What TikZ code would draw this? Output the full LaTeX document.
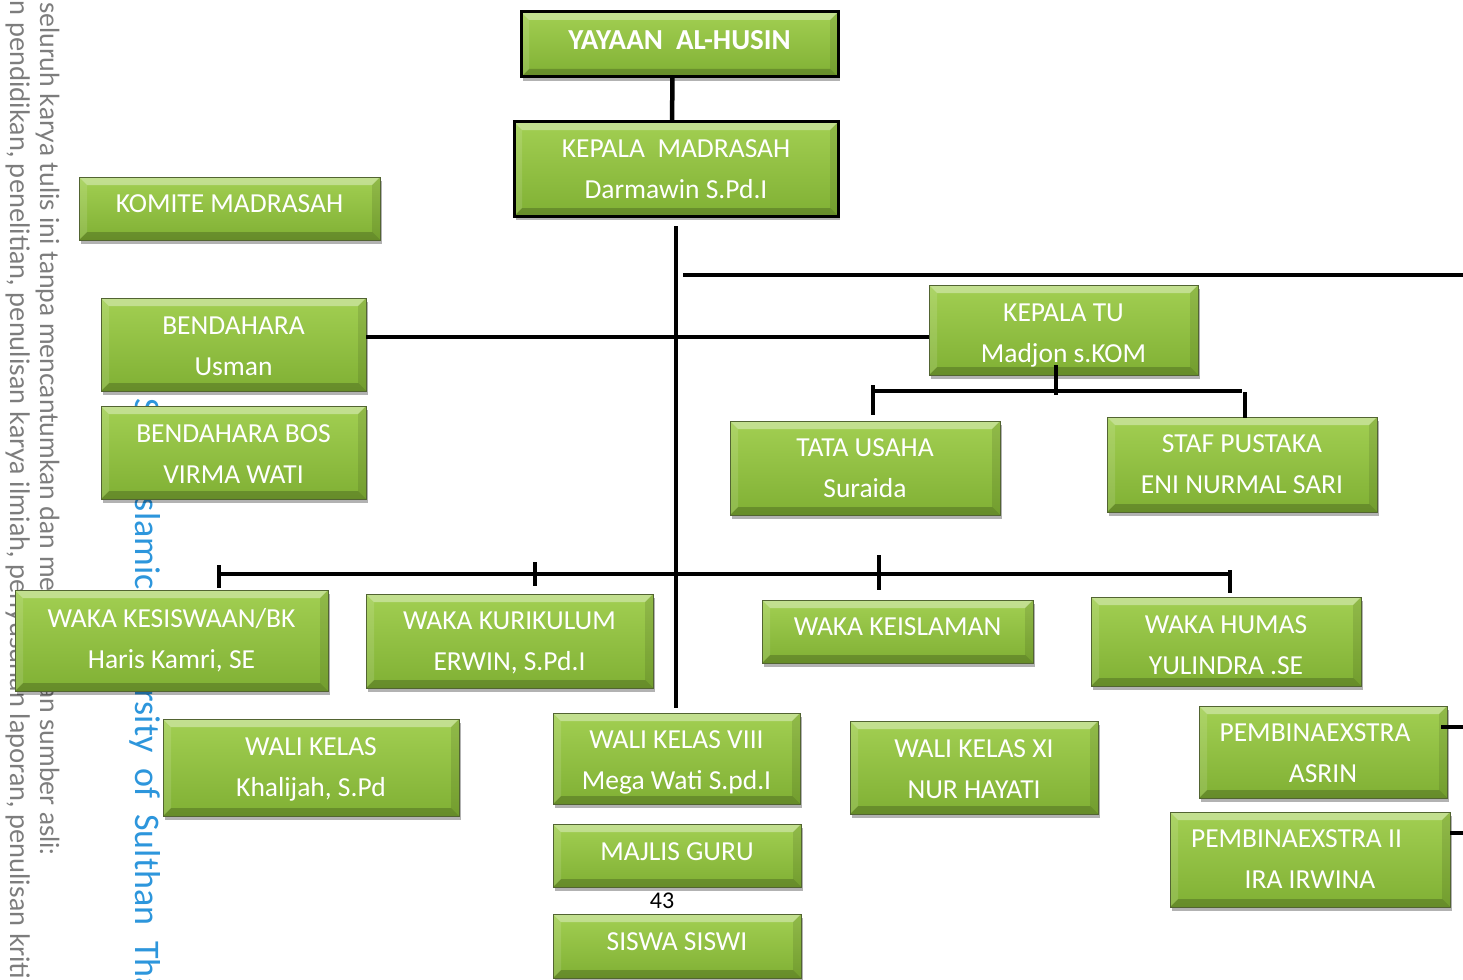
\documentclass[tikz,border=0pt]{standalone}
\usepackage{fontspec}
\setmainfont{Carlito}
\newfontfamily\wmfont{Lato}
\usetikzlibrary{shadows,calc}
\definecolor{gtop}{RGB}{162,207,82}
\definecolor{gbot}{RGB}{128,176,52}
\definecolor{gedge}{RGB}{82,100,50}
\definecolor{wmgrey}{RGB}{125,125,125}
\definecolor{wmblue}{RGB}{45,150,220}
\tikzset{
  orgbox/.style={rectangle, anchor=north west, inner sep=0pt, outer sep=0pt,
    top color=gtop, bottom color=gbot, draw=gedge, line width=1pt,
    drop shadow={shadow xshift=2pt, shadow yshift=-4pt, opacity=0.3, fill=black},
    path picture={
      \path (path picture bounding box.north west) coordinate (bNW)
            (path picture bounding box.south east) coordinate (bSE);
      \fill[white, opacity=0.36] (bNW) -- (bNW -| bSE) -- ($(bNW -| bSE)+(-8,-8)$) -- ($(bNW)+(8,-8)$) -- cycle;
      \fill[black, opacity=0.20] (bSE) -- (bSE -| bNW) -- ($(bSE -| bNW)+(8,8)$) -- ($(bSE)+(-8,8)$) -- cycle;
      \fill[white, opacity=0.12] (bNW) -- ($(bNW)+(8,-8)$) -- ($(bSE -| bNW)+(8,8)$) -- (bSE -| bNW) -- cycle;
      \fill[black, opacity=0.10] (bNW -| bSE) -- ($(bNW -| bSE)+(-8,-8)$) -- ($(bSE)+(-8,8)$) -- (bSE) -- cycle;
    }},
  headbox/.style={orgbox, draw=black, line width=3pt},
  boxtext/.style={text=white, align=center, inner sep=0pt, font=\fontsize{27.5}{41}\selectfont},
  conn/.style={line width=4.5pt, black},
  wmtext/.style={rotate=-90, anchor=base west, inner sep=0pt},
}
\begin{document}
\begin{tikzpicture}[x=1pt,y=1pt]
\useasboundingbox (0,0) rectangle (1463,-979);
\clip (0,0) rectangle (1463,-979);
\fill[white] (0,0) rectangle (1463,-979);

% watermark texts
\node[wmtext, text=wmgrey] (wm1) at (11,0) {\resizebox{979pt}{!}{\wmfont n pendidikan, penelitian, penulisan karya ilmiah, penyusunan laporan, penulisan kriti}};
\node[wmtext, text=wmgrey] (wm2) at (40,-2) {\resizebox{853pt}{!}{\wmfont seluruh karya tulis ini tanpa mencantumkan dan menyebutkan sumber asli:}};
\node[wmtext, text=wmblue, font=\fontsize{36}{40}\selectfont] (wm3) at (135,-398) {\spaceskip=16pt State Islamic University of Sulthan Thaha};

% boxes
\node[headbox, minimum width=317, minimum height=65] (yay) at (521,-12) {};
\node[headbox, minimum width=324, minimum height=94] (kep) at (514,-122) {};
\node[orgbox, minimum width=301, minimum height=63] (kom) at (79,-177) {};
\node[orgbox, minimum width=265, minimum height=93] (ben) at (101,-298) {};
\node[orgbox, minimum width=265, minimum height=93] (bos) at (101,-406) {};
\node[orgbox, minimum width=269, minimum height=90] (ktu) at (929,-285) {};
\node[orgbox, minimum width=270, minimum height=94] (tu) at (730,-421) {};
\node[orgbox, minimum width=270, minimum height=95] (staf) at (1107,-417) {};
\node[orgbox, minimum width=313, minimum height=101] (wks) at (15,-590) {};
\node[orgbox, minimum width=287, minimum height=94] (wkk) at (366,-594) {};
\node[orgbox, minimum width=271, minimum height=63] (wki) at (762,-600) {};
\node[orgbox, minimum width=270, minimum height=89] (wkh) at (1091,-597) {};
\node[orgbox, minimum width=296, minimum height=97] (wl) at (163,-719) {};
\node[orgbox, minimum width=247, minimum height=91] (wl8) at (553,-713) {};
\node[orgbox, minimum width=248, minimum height=93] (wl11) at (850,-721) {};
\node[orgbox, minimum width=248, minimum height=92] (pe1) at (1199,-706) {};
\node[orgbox, minimum width=280, minimum height=95] (pe2) at (1170,-812) {};
\node[orgbox, minimum width=248, minimum height=63] (mg) at (553,-824) {};
\node[orgbox, minimum width=248, minimum height=64] (ss) at (553,-914) {};

% box texts
\node[boxtext, font=\fontsize{29}{41}\selectfont\bfseries] (yay-t) at ([yshift=4]yay.center) {YAYAAN\ \ AL-HUSIN};
\node[boxtext] (kep-t) at (kep.center) {KEPALA\ \ MADRASAH\\Darmawin S.Pd.I};
\node[boxtext] (kom-t) at ([yshift=5]kom.center) {KOMITE MADRASAH};
\node[boxtext] (ben-t) at ([yshift=-2]ben.center) {BENDAHARA\\Usman};
\node[boxtext] (bos-t) at ([yshift=-2]bos.center) {BENDAHARA BOS\\VIRMA WATI};
\node[boxtext] (ktu-t) at ([yshift=-6]ktu.center) {KEPALA TU\\Madjon s.KOM};
\node[boxtext] (tu-t) at (tu.center) {TATA USAHA\\Suraida};
\node[boxtext] (staf-t) at (staf.center) {STAF PUSTAKA\\ENI NURMAL SARI};
\node[boxtext] (wks-t) at (wks.center) {WAKA KESISWAAN/BK\\Haris Kamri, SE};
\node[boxtext] (wkk-t) at ([yshift=-2]wkk.center) {WAKA KURIKULUM\\ERWIN, S.Pd.I};
\node[boxtext] (wki-t) at ([yshift=5]wki.center) {WAKA KEISLAMAN};
\node[boxtext] (wkh-t) at ([yshift=-4]wkh.center) {WAKA HUMAS\\YULINDRA .SE};
\node[boxtext] (wl-t) at ([yshift=-2]wl.center) {WALI KELAS\\Khalijah, S.Pd};
\node[boxtext] (wl8-t) at ([yshift=-4]wl8.center) {WALI KELAS VIII\\Mega Wati S.pd.I};
\node[boxtext] (wl11-t) at ([yshift=-2]wl11.center) {WALI KELAS XI\\NUR HAYATI};
\node[boxtext] (pe1-t) at ([yshift=-1]pe1.center) {PEMBINAEXSTRA\hspace*{16pt}\\ASRIN};
\node[boxtext] (pe2-t) at (pe2.center) {PEMBINAEXSTRA II\hspace*{27pt}\\IRA IRWINA};
\node[boxtext] (mg-t) at ([yshift=4]mg.center) {MAJLIS GURU};
\node[boxtext] (ss-t) at ([yshift=4]ss.center) {SISWA SISWI};
\node[font=\fontsize{24}{28}\selectfont, text=black] (pg) at (662,-901) {43};

% connectors
\draw[conn] ([xshift=-7]yay.south) -- ([xshift=-4]kep.north);
\coordinate (spineBot) at ([yshift=5]wl8.north -| kep.south);
\draw[conn] ([yshift=-10]kep.south) -- (spineBot);
\coordinate (topL) at (683,-275);
\coordinate (topR) at (1463,-275);
\draw[conn] (topL) -- (topR);
\draw[conn] ([yshift=-7]ktu.west) -- ([yshift=-7]ktu.west -| ben.east);
\coordinate (tuJ) at (1056,-391);
\draw[conn] ([xshift=-7.5,yshift=10]ktu.south) -- ([yshift=-4]tuJ);
\coordinate (tuL) at (873,-391);
\coordinate (tuR) at (1242,-391);
\draw[conn] (tuL) -- (tuR);
\draw[conn] ([yshift=6]tuL) -- ([yshift=-24]tuL);
\draw[conn] ([xshift=3,yshift=-1]tuR) -- ([xshift=3,yshift=-27]tuR);
\coordinate (wL) at (219,-574);
\coordinate (wR) at (1230,-574);
\draw[conn] (wL) -- (wR);
\draw[conn] ([yshift=9]wL) -- ([yshift=-14]wL);
\coordinate (wK) at (535,-574);
\draw[conn] ([yshift=12]wK) -- ([yshift=-12]wK);
\coordinate (wM) at (879,-574);
\draw[conn] ([yshift=19]wM) -- ([yshift=-16]wM);
\draw[conn] ([yshift=4]wR) -- ([yshift=-19]wR);
\coordinate (s1) at (1463,-727);
\coordinate (s2) at (1463,-833);
\draw[conn] ([xshift=-6,yshift=25]pe1.east) -- (s1);
\draw[conn] ([yshift=26.5]pe2.east) -- (s2);
\end{tikzpicture}
\end{document}
